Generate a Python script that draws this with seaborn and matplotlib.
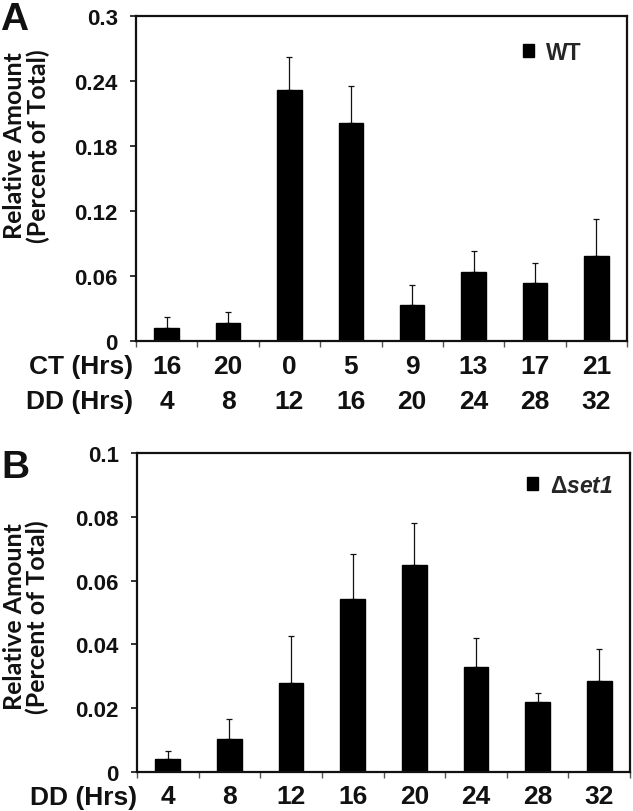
import matplotlib
matplotlib.use("Agg")
import matplotlib.pyplot as plt
from matplotlib.patches import Patch
from matplotlib.ticker import FixedLocator
import numpy as np
import pandas as pd
import seaborn as sns

# Giá trị
ct_hours = ["16", "20", "0", "5", "9", "13", "17", "21"]
dd_hours = ["4", "8", "12", "16", "20", "24", "28", "32"]

wt_mean = [0.0123, 0.0169, 0.232, 0.2015, 0.0331, 0.0638, 0.0537, 0.0788]
wt_err = [0.0097, 0.0095, 0.030, 0.034, 0.019, 0.0193, 0.0181, 0.0335]

set1_mean = [0.0042, 0.0103, 0.0280, 0.0543, 0.0650, 0.0330, 0.0220, 0.0286]
set1_err = [0.0023, 0.0064, 0.0147, 0.0139, 0.0131, 0.0090, 0.0027, 0.0101]

wt_yticks = [0, 0.06, 0.12, 0.18, 0.24, 0.3]
wt_yticklabels = ["0", "0.06", "0.12", "0.18", "0.24", "0.3"]
set1_yticks = [0, 0.02, 0.04, 0.06, 0.08, 0.1]
set1_yticklabels = ["0", "0.02", "0.04", "0.06", "0.08", "0.1"]

sns.set_theme(style="white")
plt.rcParams["font.family"] = ["Liberation Sans", "DejaVu Sans"]
plt.rcParams["font.weight"] = "bold"
plt.rcParams["mathtext.fontset"] = "custom"
plt.rcParams["mathtext.rm"] = "Liberation Sans"
plt.rcParams["mathtext.bfit"] = "Liberation Sans:italic:bold"

INK = "#111111"
W, H = 633, 812


def style_panel(ax, means, errs, labels, yticks, yticklabels, ymax, x_pad_pt):
    n = len(means)
    ax.errorbar(np.arange(n), means, yerr=[np.zeros(n), errs], fmt="none",
                ecolor=INK, elinewidth=0.9, capsize=2.5, capthick=0.9, zorder=1)
    ax.set_xlim(-0.5, n - 0.5)
    ax.set_ylim(0, ymax)
    ax.set_yticks(yticks)
    ax.set_yticklabels(yticklabels)
    ax.set_xticks(range(n))
    ax.set_xticklabels(labels)
    ax.xaxis.set_minor_locator(FixedLocator(np.arange(-0.5, n, 1.0)))
    ax.tick_params(axis="x", which="major", length=0, pad=x_pad_pt, labelsize=19, colors=INK)
    ax.tick_params(axis="x", which="minor", bottom=True, length=4, width=1, color="#555555")
    ax.tick_params(axis="y", left=True, length=4, width=1.2, pad=9, labelsize=16, colors=INK)
    for s in ax.spines.values():
        s.set_color(INK)
        s.set_linewidth(1.6)
    ax.set_xlabel("")
    ax.set_ylabel("Relative Amount\n(Percent of Total)", fontsize=18, fontweight="bold",
                  family=["Lato", "DejaVu Sans"], color=INK, linespacing=1.0)


fig = plt.figure(figsize=(W / 100, H / 100), dpi=100)

# Panel A (WT)
ax1 = fig.add_axes([136 / W, 1 - 342 / H, 491 / W, 325 / H])
df_wt = pd.DataFrame({"ct": ct_hours, "value": wt_mean})
sns.barplot(data=df_wt, x="ct", y="value", color="black", width=0.4, saturation=1,
            edgecolor="black", ax=ax1, zorder=2)
style_panel(ax1, wt_mean, wt_err, ct_hours, wt_yticks, wt_yticklabels, 0.3, 9.2)
ax1.yaxis.set_label_coords(-0.176, 0.603)
ax1.text(-0.006, -0.0395, "CT (Hrs)", transform=ax1.transAxes, ha="right", va="top",
         fontsize=19, fontweight="bold", color=INK)
ax1.text(-0.006, -0.148, "DD (Hrs)", transform=ax1.transAxes, ha="right", va="top",
         fontsize=19, fontweight="bold", color=INK)
for i, lab in enumerate(dd_hours):
    ax1.text(i, -0.148, lab, transform=ax1.get_xaxis_transform(), ha="center", va="top",
             fontsize=19, fontweight="bold", color=INK)
ax1.legend(handles=[Patch(facecolor="black", edgecolor="black", label="WT")],
           loc="center left", bbox_to_anchor=(0.788, 0.889), frameon=False,
           handlelength=0.5, handleheight=0.5, handletextpad=0.5, borderpad=0,
           borderaxespad=0, prop={"size": 16.5, "weight": "bold"})

# Panel B (delta set1)
ax2 = fig.add_axes([137 / W, 1 - 773 / H, 493 / W, 319 / H])
df_set1 = pd.DataFrame({"dd": dd_hours, "value": set1_mean})
sns.barplot(data=df_set1, x="dd", y="value", color="black", width=0.4, saturation=1,
            edgecolor="black", ax=ax2, zorder=2)
style_panel(ax2, set1_mean, set1_err, dd_hours, set1_yticks, set1_yticklabels, 0.1, 9.0)
ax2.yaxis.set_label_coords(-0.178, 0.489)
ax2.text(0.0, -0.0392, "DD (Hrs)", transform=ax2.transAxes, ha="right", va="top",
         fontsize=19, fontweight="bold", color=INK)
ax2.legend(handles=[Patch(facecolor="black", edgecolor="black", label=r"$\Delta\mathbfit{set1}$")],
           loc="center left", bbox_to_anchor=(0.791, 0.899), frameon=False,
           handlelength=0.5, handleheight=0.5, handletextpad=0.5, borderpad=0,
           borderaxespad=0, prop={"size": 16.5, "weight": "bold"})

fig.text(0 / W, 1 - 30 / H, "A", fontsize=28, fontweight="bold", color=INK, va="baseline")
fig.text(1 / W, 1 - 478 / H, "B", fontsize=28, fontweight="bold", color=INK, va="baseline")

fig.savefig("out.png", dpi=100)
